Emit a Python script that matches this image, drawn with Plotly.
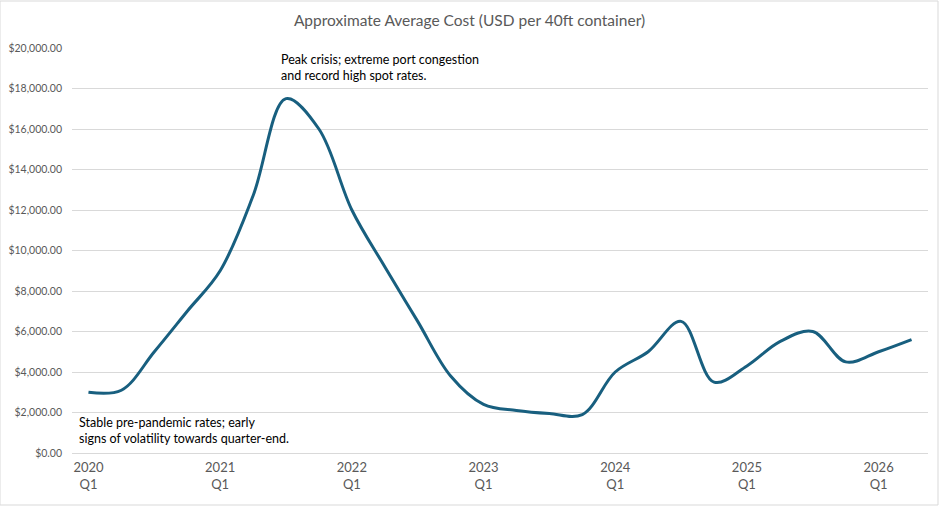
import plotly.graph_objects as go

quarters = [f"{y} Q{q}" for y in range(2020, 2027) for q in range(1, 5)][:26]
costs = [3000, 3100, 5000, 7000, 9000, 12700, 17500, 16000,
         12000, 9200, 6500, 3800, 2400, 2100, 1950, 1900,
         4000, 5000, 6500, 3500, 4300, 5500, 6000, 4500,
         5000, 5600]
tick_vals = [q for q in quarters if q.endswith("Q1")]
tick_text = [q.replace(" ", "<br>") for q in tick_vals]
y_ticks = list(range(0, 20001, 2000))

title_text = "Approximate Average Cost (USD per 40ft container)"
note_peak = "Peak crisis; extreme port congestion<br>and record high spot rates."
note_start = "Stable pre-pandemic rates; early<br>signs of volatility towards quarter-end."

FONT = "Lato"
GRAY = "#595959"

fig = go.Figure()
fig.add_trace(go.Scatter(
    x=quarters, y=costs, mode="lines",
    line=dict(color="#185f7f", width=3, shape="spline", smoothing=1.0),
    hoverinfo="x+y", showlegend=False,
))

fig.update_layout(
    width=939, height=506,
    margin=dict(l=72, r=11, t=48, b=53, autoexpand=False),
    paper_bgcolor="white", plot_bgcolor="white",
    font=dict(family=FONT, color=GRAY),
    title=dict(text=title_text, x=0.5, xanchor="center", y=0.96, yanchor="middle",
               font=dict(family=FONT, size=15.5, color=GRAY)),
    xaxis=dict(type="category", categoryorder="array", categoryarray=quarters,
               tickmode="array", tickvals=tick_vals, ticktext=tick_text,
               showgrid=False, showline=False, zeroline=False, ticks="",
               ticklabelstandoff=5, automargin=False,
               tickfont=dict(size=13, color=GRAY), range=[-0.5, 25.5]),
    yaxis=dict(range=[0, 20000], tickvals=y_ticks, tickformat="$,.2f",
               showgrid=True, gridcolor="#d9d9d9", gridwidth=1,
               zeroline=True, zerolinecolor="#d9d9d9", zerolinewidth=1,
               showline=False, ticks="", ticklen=0, ticklabelstandoff=9,
               automargin=False,
               tickfont=dict(size=10.5, color=GRAY)),
    annotations=[
        dict(text=note_peak, x=5.8, y=19900, xref="x", yref="y",
             xanchor="left", yanchor="top", align="left", showarrow=False,
             font=dict(family=FONT, size=12.5, color="#000000")),
        dict(text=note_start, x=-0.35, y=2000, xref="x", yref="y",
             xanchor="left", yanchor="top", align="left", showarrow=False,
             font=dict(family=FONT, size=12.5, color="#000000")),
    ],
    shapes=[dict(type="rect", xref="paper", yref="paper",
                 x0=-72/856, x1=1 + 10/856, y0=-52/405, y1=1 + 47/405,
                 line=dict(color="#d9d9d9", width=1), fillcolor="rgba(0,0,0,0)",
                 layer="below")],
)

fig.write_html("out.html")
